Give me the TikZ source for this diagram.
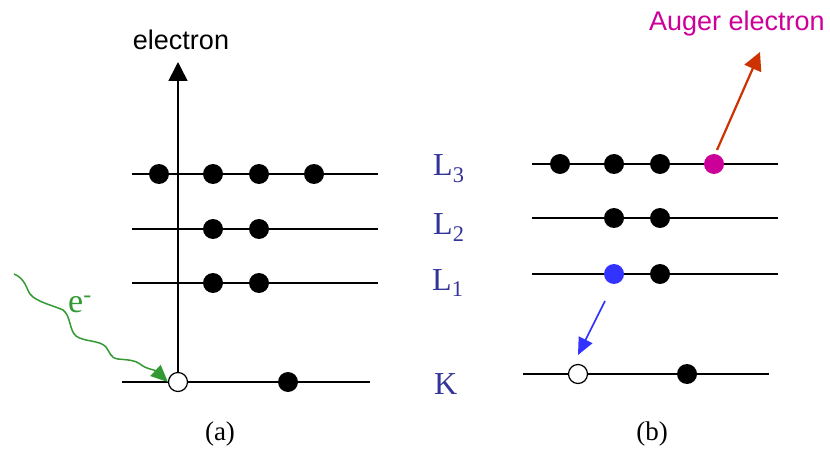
\documentclass[tikz,border=0pt]{standalone}
\usepackage{fontspec}
\setmainfont{Liberation Serif}
\setsansfont{Liberation Sans}
\usetikzlibrary{arrows.meta}
\definecolor{lblue}{HTML}{333399}
\definecolor{egreen}{HTML}{339933}
\definecolor{dblue}{HTML}{3333FF}
\definecolor{magen}{HTML}{CC0099}
\definecolor{rorange}{HTML}{CC3300}
\tikzset{
  level/.style={line width=1.6pt},
  edot/.style={circle,fill=black,inner sep=0pt,minimum size=20pt},
  hole/.style={circle,draw=black,fill=white,line width=1.2pt,inner sep=0pt,minimum size=19pt},
  lvllabel/.style={text=lblue,font=\fontsize{32}{35}\selectfont,anchor=base west,inner sep=0pt},
  panelcap/.style={font=\fontsize{27}{30}\selectfont,anchor=base,inner sep=0pt},
  bigtip/.style={-{Triangle[length=19pt,width=19pt]}},
}
\begin{document}
\begin{tikzpicture}[x=1pt,y=-1pt]
\useasboundingbox (0,0) rectangle (830,449);
% ---------- panel (a)
\coordinate (a3l) at (132,174); \coordinate (a3r) at (378,174);
\coordinate (a2l) at (132,229); \coordinate (a2r) at (378,229);
\coordinate (a1l) at (132,283); \coordinate (a1r) at (378,283);
\coordinate (akl) at (122,382); \coordinate (akr) at (370,382);
\draw[level] (a3l) -- (a3r);
\draw[level] (a2l) -- (a2r);
\draw[level] (a1l) -- (a1r);
\draw[level] (akl) -- (akr);
\node[hole] (ahole) at (178,382) {};
\coordinate (atop) at (178,62);
\draw[level,bigtip] (ahole.north) -- (atop);
\node[font=\sffamily\fontsize{27}{30}\selectfont,inner sep=0pt] (elab) at (181,40) {electron};
\node[edot] (a31) at (159,174) {};
\node[edot] (a32) at (213,174) {};
\node[edot] (a33) at (259,174) {};
\node[edot] (a34) at (314,174) {};
\node[edot] (a21) at (213,229) {};
\node[edot] (a22) at (259,229) {};
\node[edot] (a11) at (213,283) {};
\node[edot] (a12) at (259,283) {};
\node[edot] (ak1) at (288,382) {};
% incoming electron
\coordinate (ein) at (14,274);
\draw[egreen,line width=1.5pt,-{Triangle[length=17pt,width=15pt]}]
  (ein) .. controls (25,278) and (27,290) .. (30,294)
  .. controls (36,302) and (55,306) .. (63,310)
  .. controls (71,316) and (69,330) .. (76,336)
  .. controls (84,342) and (100,340) .. (106,347)
  .. controls (110,352) and (110,358) .. (118,359)
  .. controls (128,360) and (135,360) .. (140,364)
  .. controls (146,369) and (155,370) .. (ahole.west);
\node[text=egreen,font=\fontsize{34}{36}\selectfont,anchor=base west,inner sep=0pt] (elec) at (68,312) {e\textsuperscript{-}};
% labels
\node[lvllabel] (L3) at (433,176) {L\textsubscript{3}};
\node[lvllabel] (L2) at (433,235) {L\textsubscript{2}};
\node[lvllabel] (L1) at (432,290) {L\textsubscript{1}};
\node[lvllabel] (K) at (434,394) {K};
\node[panelcap] (capa) at (220,440) {(a)};
\node[panelcap] (capb) at (652,440) {(b)};
% ---------- panel (b)
\coordinate (b3l) at (532,164); \coordinate (b3r) at (778,164);
\coordinate (b2l) at (532,218); \coordinate (b2r) at (778,218);
\coordinate (b1l) at (532,274); \coordinate (b1r) at (778,274);
\coordinate (bkl) at (523,374); \coordinate (bkr) at (769,374);
\draw[level] (b3l) -- (b3r);
\draw[level] (b2l) -- (b2r);
\draw[level] (b1l) -- (b1r);
\draw[level] (bkl) -- (bkr);
\node[edot] (b31) at (560,164) {};
\node[edot] (b32) at (614,164) {};
\node[edot] (b33) at (660,164) {};
\node[edot,fill=magen] (b34) at (714,164) {};
\node[edot] (b21) at (614,218) {};
\node[edot] (b22) at (660,218) {};
\node[edot,fill=dblue] (b11) at (614,274) {};
\node[edot] (b12) at (660,274) {};
\node[hole] (bhole) at (578,374) {};
\node[edot] (bk1) at (687,374) {};
\node[text=magen,font=\sffamily\fontsize{27}{30}\selectfont,inner sep=0pt] (auger) at (737,24) {Auger electron};
\coordinate (augtip) at (760,52);
\draw[rorange,line width=2.2pt,-{Triangle[length=18pt,width=18pt]}] ([shift={(3,-14)}]b34.center) -- (augtip);
\coordinate (bluestart) at (605,301);
\draw[dblue,line width=1.6pt,-{Triangle[length=17pt,width=15pt]}] (bluestart) -- ([shift={(0,-19)}]bhole.center);
\end{tikzpicture}
\end{document}
